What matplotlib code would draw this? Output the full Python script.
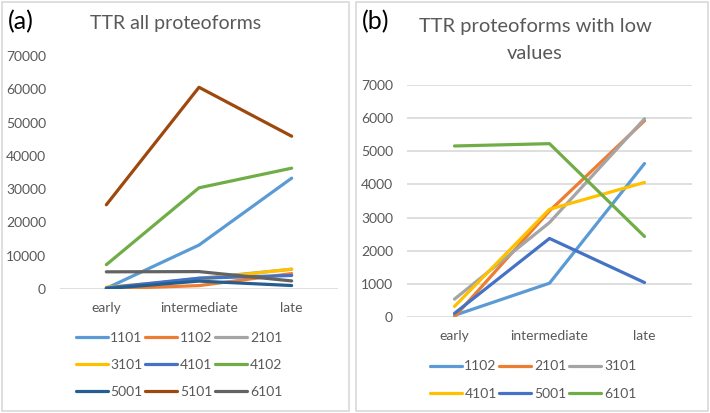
import matplotlib.pyplot as plt
from matplotlib.patches import FancyBboxPatch

stages = ['early', 'intermediate', 'late']

# panel (a): all proteoforms
p1101 = [200, 13200, 33300]
p1102 = [50, 1020, 4630]
p2101 = [0, 3200, 5920]
p3101 = [540, 2850, 5980]
p4101 = [320, 3250, 4060]
p4102 = [7300, 30400, 36300]
p5001 = [110, 2370, 1040]
p5101 = [25300, 60600, 45900]
p6101 = [5160, 5230, 2430]

names_a = ['1101', '1102', '2101', '3101', '4101', '4102', '5001', '5101', '6101']
series_a = [p1101, p1102, p2101, p3101, p4101, p4102, p5001, p5101, p6101]
colors_a = ['#5B9BD5', '#ED7D31', '#A5A5A5', '#FFC000', '#4472C4',
            '#70AD47', '#255E91', '#9E480E', '#636363']

# panel (b): low-value proteoforms only
names_b = ['1102', '2101', '3101', '4101', '5001', '6101']
series_b = [p1102, p2101, p3101, p4101, p5001, p6101]
colors_b = ['#5B9BD5', '#ED7D31', '#A5A5A5', '#FFC000', '#4472C4', '#70AD47']

plt.rcParams['font.family'] = ['Lato', 'DejaVu Sans']
W, H = 710, 413
fig = plt.figure(figsize=(W / 100, H / 100), dpi=100)

def px_axes(x0, y0, x1, y1):
    # pixel box (top-left origin) -> figure axes
    return fig.add_axes([x0 / W, 1 - y1 / H, (x1 - x0) / W, (y1 - y0) / H])

def box(x0, y0, x1, y1):
    fig.patches.append(FancyBboxPatch((x0 / W, 1 - y1 / H), (x1 - x0) / W, (y1 - y0) / H,
                                      boxstyle='square,pad=0', transform=fig.transFigure,
                                      facecolor='none', edgecolor='#D9D9D9', lw=1.2))

box(2, 2, 349, 411)
box(356, 2, 708, 411)

grey = '#595959'

def style(ax, top, step, grid):
    ax.set_xlim(-0.5, 2.5)
    ax.set_ylim(0, top)
    ax.set_yticks(range(0, top + 1, step))
    ax.set_xticks(range(3))
    ax.set_xticklabels(stages)
    for s in ax.spines.values():
        s.set_visible(False)
    ax.tick_params(length=0, labelsize=10, labelcolor=grey)
    ax.tick_params(axis='y', pad=10)
    ax.tick_params(axis='x', pad=9)
    if grid:
        ax.yaxis.grid(True, color='#D9D9D9', lw=1.2)
        ax.set_axisbelow(True)
    else:
        ax.axhline(0, color='#D9D9D9', lw=1.2, zorder=0)

def row_legend(ax, ncol, center):
    # matplotlib fills legends column by column; reorder so entries read by row
    h, l = ax.get_legend_handles_labels()
    nrow = len(h) // ncol
    order = [r * ncol + c for c in range(ncol) for r in range(nrow)]
    fig.legend([h[i] for i in order], [l[i] for i in order], ncol=ncol, loc='center',
               bbox_to_anchor=center, frameon=False, fontsize=10,
               labelcolor=grey, handlelength=2.3, handletextpad=0.2,
               columnspacing=0.2, labelspacing=1.1)

ax1 = px_axes(60, 56, 338, 289)
for name, vals, c in zip(names_a, series_a, colors_a):
    ax1.plot(range(3), vals, color=c, lw=2.3, label=name, solid_capstyle='round')
style(ax1, 70000, 10000, False)
fig.text(176 / W, 1 - 23 / H, 'TTR all proteoforms', ha='center', va='center',
         fontsize=14, color=grey)
fig.text(8 / W, 1 - 22 / H, '(a)', ha='left', va='center', fontsize=18, color='black')
row_legend(ax1, 3, (179 / W, 1 - 365 / H))

ax2 = px_axes(407, 85, 692, 317)
for name, vals, c in zip(names_b, series_b, colors_b):
    ax2.plot(range(3), vals, color=c, lw=2.3, label=name, solid_capstyle='round')
style(ax2, 7000, 1000, True)
fig.text(535 / W, 1 - 40 / H, 'TTR proteoforms with low\nvalues', ha='center', va='center',
         fontsize=14.5, color=grey, linespacing=1.7)
fig.text(362 / W, 1 - 22 / H, '(b)', ha='left', va='center', fontsize=18, color='black')
row_legend(ax2, 3, (533 / W, 1 - 380 / H))

fig.savefig('out.png', dpi=100)
